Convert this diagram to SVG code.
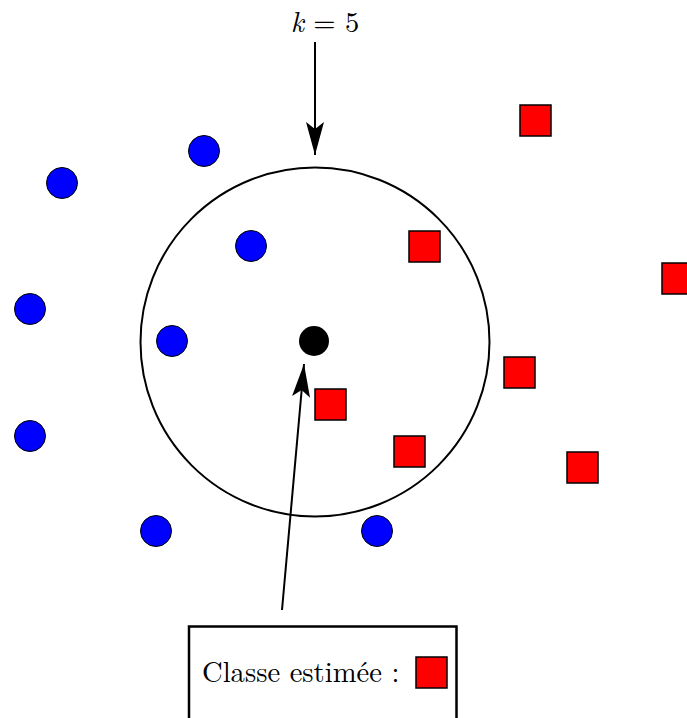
<svg xmlns="http://www.w3.org/2000/svg" width="687" height="718" viewBox="0 0 687 718">
<style>
.blue{fill:#0000ff;stroke:#000;stroke-width:1}
.red{fill:#ff0000;stroke:#000;stroke-width:1.5}
.line{stroke:#000;stroke-width:2;fill:none}
.txt{font-family:"Latin Modern Roman","Liberation Serif","DejaVu Serif",serif;font-size:28.6px;fill:#000}
</style>
<defs>
<marker id="stealth" markerUnits="userSpaceOnUse" markerWidth="40" markerHeight="40" refX="33" refY="10" orient="auto" viewBox="0 0 40 20">
<path d="M33,10 L0,1 L7,10 L0,19 Z" fill="#000"/>
</marker>
</defs>
<g id="big-circle"><circle cx="315" cy="342" r="174.5" class="line"/></g>
<g id="query"><circle cx="314" cy="341" r="15" fill="#000"/></g>
<g id="blue-points">
<circle cx="62" cy="183" r="15.5" class="blue"/>
<circle cx="204" cy="151" r="15.5" class="blue"/>
<circle cx="251" cy="246" r="15.5" class="blue"/>
<circle cx="30" cy="309" r="15.5" class="blue"/>
<circle cx="172" cy="341" r="15.5" class="blue"/>
<circle cx="30" cy="436" r="15.5" class="blue"/>
<circle cx="156" cy="531" r="15.5" class="blue"/>
<circle cx="377" cy="531" r="15.5" class="blue"/>
</g>
<g id="red-points">
<rect x="520" y="105" width="31" height="31" class="red"/>
<rect x="409" y="231" width="31" height="31" class="red"/>
<rect x="662" y="263" width="31" height="31" class="red"/>
<rect x="504" y="357" width="31" height="31" class="red"/>
<rect x="315" y="389" width="31" height="31" class="red"/>
<rect x="394" y="436" width="31" height="31" class="red"/>
<rect x="567" y="452" width="31" height="31" class="red"/>
</g>
<g id="connectors">
<line x1="315" y1="42" x2="315" y2="155" class="line" marker-end="url(#stealth)"/>
<line x1="282" y1="610" x2="304" y2="364" class="line" marker-end="url(#stealth)"/>
</g>
<g id="label-k"><text x="325" y="32" text-anchor="middle" class="txt"><tspan font-style="italic">k</tspan> = 5</text></g>
<g id="result-box">
<path d="M189,720 L189,626.5 L456.5,626.5 L456.5,720" fill="none" stroke="#000" stroke-width="2.5"/>
<text x="202" y="682" class="txt">Classe estimée :</text>
<rect x="416" y="657" width="31" height="31" class="red"/>
</g>
</svg>
